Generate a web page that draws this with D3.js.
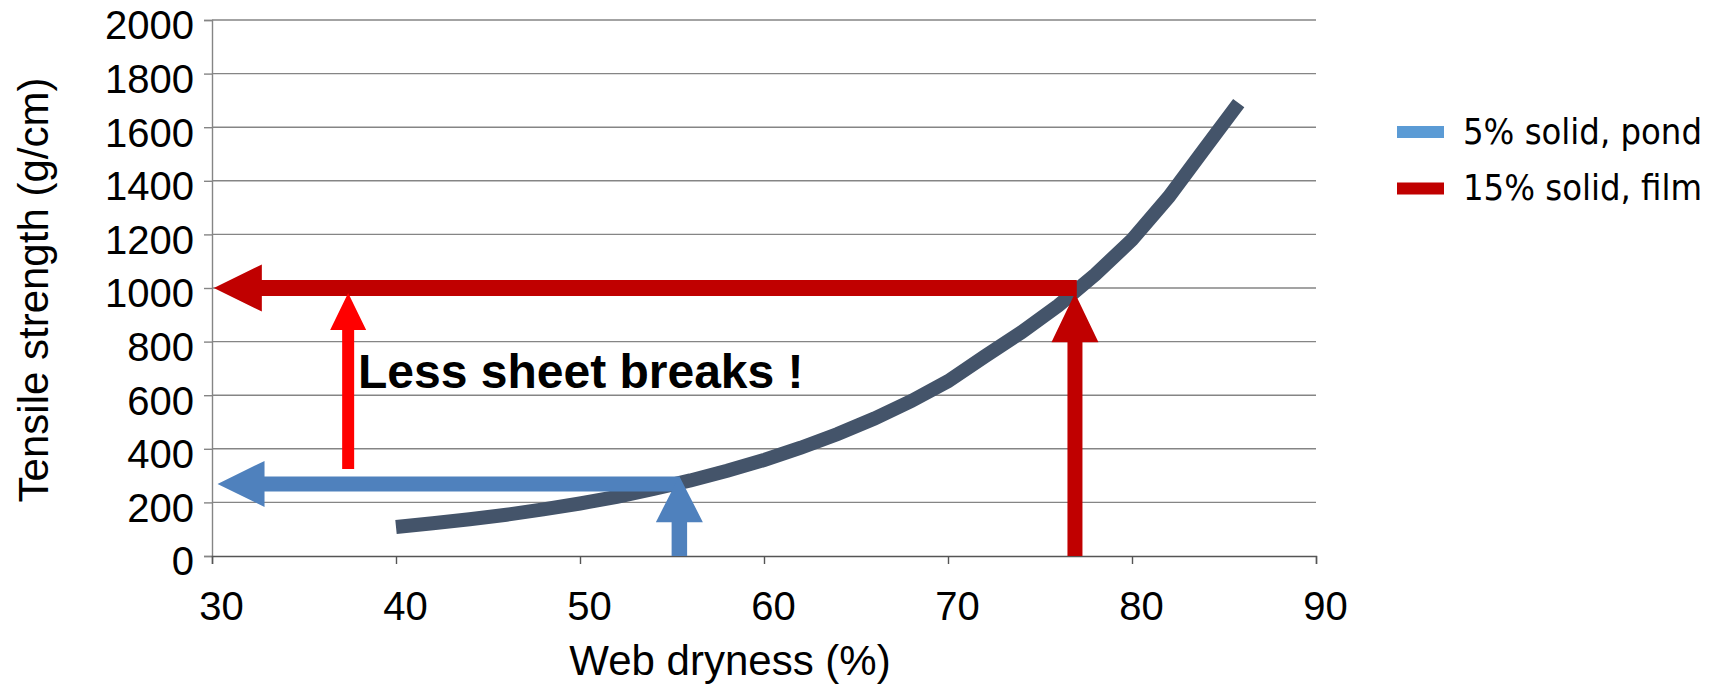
<!DOCTYPE html>
<html>
<head>
<meta charset="utf-8">
<script src="https://cdn.jsdelivr.net/npm/d3@7"></script>
<style>
  html, body { margin: 0; padding: 0; background: #fff; }
  svg { display: block; font-family: "Liberation Sans", Arial, sans-serif; }
</style>
</head>
<body>
<svg id="chart" width="1722" height="687"></svg>
<script>
// Tensile strength vs. web dryness
const dryness  = [40, 42, 44, 46, 48, 50, 52, 54, 56, 58, 60, 62, 64, 66, 68, 70, 72, 74, 76, 78, 80, 82, 84, 85.8];
const strength = [108, 122, 137, 154, 174, 196, 221, 250, 282, 318, 358, 404, 455, 513, 578, 652, 745, 835, 935, 1050, 1180, 1340, 1525, 1690];

const xTicks = [30, 40, 50, 60, 70, 80, 90];
const yTicks = [0, 200, 400, 600, 800, 1000, 1200, 1400, 1600, 1800, 2000];

// Arrows: [fromX, fromY, toX, toY] in data units
const pondDryness  = [55.4, 0, 55.4, 298];     // 5% solid up to the curve
const pondStrength = [55.4, 269, 30.3, 269];   // across to the strength axis
const filmDryness  = [76.9, 0, 76.9, 980];     // 15% solid up to the curve
const filmStrength = [77.0, 1000, 30.1, 1000]; // across to the strength axis
const gain         = [37.4, 325, 37.4, 981];   // improvement

const legendLabels = ["5% solid, pond", "15% solid, film"];
const annotation = "Less sheet breaks !";

const svg = d3.select("#chart");

const x = d3.scaleLinear().domain([30, 90]).range([212, 1316]);
const y = d3.scaleLinear().domain([0, 2000]).range([556, 20]);

const gridColor = "#858585";

// horizontal gridlines
svg.append("g")
  .selectAll("line")
  .data(yTicks.filter(d => d > 0))
  .join("line")
  .attr("x1", x(30)).attr("x2", x(90))
  .attr("y1", d => y(d)).attr("y2", d => y(d))
  .attr("stroke", gridColor).attr("stroke-width", 1.4);

// y axis
const yAxis = svg.append("g")
  .attr("transform", `translate(${x(30)},0)`)
  .call(d3.axisLeft(y).tickValues(yTicks).tickSize(8).tickPadding(10).tickFormat(d3.format("d")));
yAxis.select(".domain").attr("stroke", gridColor).attr("stroke-width", 1.4);
yAxis.selectAll(".tick line").attr("stroke", gridColor).attr("stroke-width", 1.4);
yAxis.selectAll(".tick text")
  .attr("font-size", 40).attr("font-family", "Liberation Sans, Arial, sans-serif")
  .attr("fill", "#000").attr("dy", "0.47em");

// x axis
const xAxis = svg.append("g")
  .attr("transform", `translate(0,${y(0)})`)
  .call(d3.axisBottom(x).tickValues(xTicks).tickSize(8).tickFormat(d3.format("d")));
xAxis.select(".domain").attr("stroke", "#555").attr("stroke-width", 1.4);
xAxis.selectAll(".tick line").attr("stroke", "#555").attr("stroke-width", 1.4);
xAxis.selectAll(".tick text")
  .attr("font-size", 40).attr("font-family", "Liberation Sans, Arial, sans-serif")
  .attr("fill", "#000").attr("y", 64).attr("dy", 0).attr("x", 9);

// axis titles
svg.append("text")
  .attr("x", 730).attr("y", 675)
  .attr("text-anchor", "middle")
  .attr("font-size", 42)
  .text("Web dryness (%)");

svg.append("text")
  .attr("transform", "translate(48,290) rotate(-90)")
  .attr("text-anchor", "middle")
  .attr("font-size", 42)
  .text("Tensile strength (g/cm)");

// strength curve
const curvePts = dryness.map((d, i) => [x(d), y(strength[i])]);
svg.append("path")
  .attr("d", d3.line()(curvePts))
  .attr("fill", "none")
  .attr("stroke", "#44546A")
  .attr("stroke-width", 14)
  .attr("stroke-linejoin", "miter")
  .attr("stroke-linecap", "butt");

// block arrow polygon from tail to tip, in pixel space
function arrowPath(a, shaft, headLen, headW) {
  const x0 = x(a[0]), y0 = y(a[1]), x1 = x(a[2]), y1 = y(a[3]);
  const dx = x1 - x0, dy = y1 - y0, len = Math.hypot(dx, dy);
  const ux = dx / len, uy = dy / len, px = -uy, py = ux;
  const bx = x1 - ux * headLen, by = y1 - uy * headLen;
  const s = shaft / 2, h = headW / 2;
  const pts = [
    [x0 + px * s, y0 + py * s],
    [bx + px * s, by + py * s],
    [bx + px * h, by + py * h],
    [x1, y1],
    [bx - px * h, by - py * h],
    [bx - px * s, by - py * s],
    [x0 - px * s, y0 - py * s]
  ];
  return "M" + pts.map(p => p.join(",")).join("L") + "Z";
}

const arrows = svg.append("g");
arrows.append("path").attr("d", arrowPath(pondStrength, 15, 47, 46)).attr("fill", "#4F81BD");
arrows.append("path").attr("d", arrowPath(pondDryness, 15.5, 46, 47)).attr("fill", "#4F81BD");
arrows.append("path").attr("d", arrowPath(filmStrength, 16, 48, 47)).attr("fill", "#C00000");
arrows.append("path").attr("d", arrowPath(filmDryness, 15, 49, 47)).attr("fill", "#C00000");
arrows.append("path").attr("d", arrowPath(gain, 12, 37, 36)).attr("fill", "#FF0000");

// annotation
svg.append("text")
  .attr("x", 358).attr("y", 388)
  .attr("font-size", 48).attr("font-weight", "bold")
  .text(annotation);

// legend
const legendColors = ["#5B9BD5", "#C00000"];
const legend = svg.append("g").attr("transform", "translate(1397,132)");
const items = legend.selectAll("g").data(legendLabels).join("g")
  .attr("transform", (d, i) => `translate(0,${i * 56.5})`);
items.append("rect")
  .attr("x", 0).attr("y", -6).attr("width", 47).attr("height", 12)
  .attr("fill", (d, i) => legendColors[i]);
items.append("text")
  .attr("x", 66).attr("y", 11.5)
  .attr("font-family", "'DejaVu Sans Condensed', 'DejaVu Sans', sans-serif")
  .attr("font-stretch", "condensed")
  .attr("font-size", 36)
  .text(d => d);
</script>
</body>
</html>
